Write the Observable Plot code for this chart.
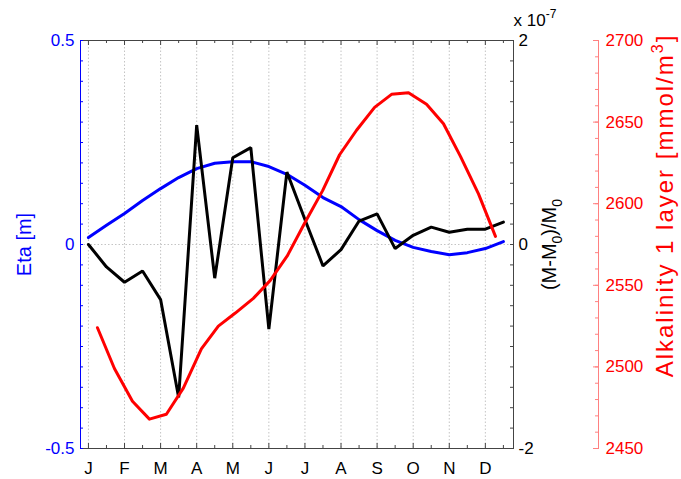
<!DOCTYPE html>
<html><head><meta charset="utf-8">
<script src="https://cdn.jsdelivr.net/npm/d3@7"></script>
<script src="https://cdn.jsdelivr.net/npm/@observablehq/plot@0.6"></script>
<style>
body{margin:0;background:#fff}
#chart{position:relative;width:681px;height:479px;overflow:hidden;background:#fff}
#chart svg{position:absolute;left:0;top:0}
</style></head><body><div id="chart"></div>
<script>
// ---- data ----
const monthLabels = ["J","F","M","A","M","J","J","A","S","O","N","D"];
const monthPos = [0,1,2,3,4,5,6,7,8,9,10,11];
const halfMonthPos = [0.5,1.5,2.5,3.5,4.5,5.5,6.5,7.5,8.5,9.5,10.5,11.5];
const tSemi = [0,0.5,1,1.5,2,2.5,3,3.5,4,4.5,5,5.5,6,6.5,7,7.5,8,8.5,9,9.5,10,10.5,11,11.5];
const eta = [0.017,0.047,0.076,0.108,0.137,0.164,0.186,0.199,0.203,0.203,0.191,0.172,0.145,0.115,0.093,0.061,0.034,0.010,-0.007,-0.017,-0.025,-0.020,-0.010,0.007];
const massAnom = [0,-0.22,-0.37,-0.26,-0.54,-1.5,1.17,-0.33,0.85,0.95,-0.83,0.71,0.245,-0.21,-0.05,0.23,0.30,-0.04,0.09,0.17,0.12,0.15,0.15,0.22]; // x 1e-7
const tAlk = [0.25,0.72,1.22,1.69,2.16,2.63,3.13,3.60,4.07,4.57,5.04,5.51,5.99,6.49,6.96,7.43,7.93,8.40,8.87,9.37,9.84,10.31,10.81,11.28];
const alk = [2524,2499,2479,2468,2471,2487,2511,2525,2533,2542,2553,2568,2588,2608,2630,2645,2659,2667,2668,2661,2649,2629,2606,2580];
const etaLabels = [-0.5,0,0.5];
const massLabels = [-2,0,2];
const alkLabels = [2450,2500,2550,2600,2650,2700];

// ---- layout ----
const W = 681, H = 479, ML = 80, MT = 40, MB = 31, MR = 168, MR3 = 83;
const frameW = W - ML - MR, frameH = H - MT - MB, frameW3 = W - ML - MR3;
const xDomain = [-0.22, 11.78];
const FONT = '"Liberation Sans", Arial, Helvetica, sans-serif';
const etaMinor = d3.range(-0.5, 0.5001, 0.05);
const massMinor = d3.range(-2, 2.001, 0.2);
const alkMinor = d3.range(2450, 2701, 10);
const base = {width: W, height: H, marginLeft: ML, marginTop: MT, marginBottom: MB,
  style: {fontFamily: FONT, fontSize: "17px", background: "transparent", overflow: "visible"}};
const grid = {stroke: "#c4c4c4", strokeDasharray: "1.5,2"};

const p1 = Plot.plot({...base, marginRight: MR,
  x: {domain: xDomain}, y: {domain: [-0.5, 0.5]},
  marks: [
    Plot.ruleX(monthPos, grid),
    Plot.ruleY([0], grid),
    Plot.ruleX(monthPos, {stroke: "#444", insetBottom: frameH - 5}),
    Plot.ruleX(halfMonthPos, {stroke: "#444", insetBottom: frameH - 3}),
    Plot.ruleX(monthPos, {stroke: "#444", insetTop: frameH - 5}),
    Plot.ruleX(halfMonthPos, {stroke: "#444", insetTop: frameH - 3}),
    Plot.frame({anchor: "top", stroke: "#444"}),
    Plot.frame({anchor: "bottom", stroke: "#444"}),
    Plot.frame({anchor: "left", stroke: "blue"}),
    Plot.ruleY(etaMinor, {stroke: "blue", insetRight: frameW - 3}),
    Plot.axisY({ticks: etaLabels, tickSize: 0, tickPadding: 6, tickFormat: d => String(d), color: "blue", label: null}),
    Plot.axisX({ticks: monthPos, tickSize: 0, tickPadding: 13, tickFormat: i => monthLabels[i], label: null}),
    Plot.text(["Eta [m]"], {frameAnchor: "left", dx: -56, rotate: -90, fontSize: 20, fill: "blue", textAnchor: "middle", lineAnchor: "middle"}),
    Plot.line(eta, {x: (d, i) => tSemi[i], y: d => d, stroke: "blue", strokeWidth: 3})
  ]});

const p2 = Plot.plot({...base, marginRight: MR,
  x: {domain: xDomain, axis: null}, y: {domain: [-2, 2]},
  marks: [
    Plot.frame({anchor: "right", stroke: "#444"}),
    Plot.ruleY(massMinor, {stroke: "#444", insetLeft: frameW - 3}),
    Plot.axisY({anchor: "right", ticks: massLabels, tickSize: 0, tickPadding: 5, tickFormat: d => String(d), label: null}),
    Plot.text(["(M-M0)/M0"], {frameAnchor: "right", dx: 36, rotate: -90, fontSize: 20, textAnchor: "middle", lineAnchor: "middle"}),
    Plot.text(["x 10-7"], {frameAnchor: "top-right", dy: -20, textAnchor: "start", lineAnchor: "middle"}),
    Plot.line(massAnom, {x: (d, i) => tSemi[i], y: d => d, stroke: "black", strokeWidth: 3, strokeLinejoin: "miter"})
  ]});

const p3 = Plot.plot({...base, marginRight: MR3,
  x: {domain: xDomain, range: [ML, W - MR], axis: null}, y: {domain: [2450, 2700]},
  marks: [
    Plot.frame({anchor: "right", stroke: "#ff8080"}),
    Plot.ruleY(alkMinor, {stroke: "#ff8080", insetLeft: frameW3 - 3}),
    Plot.ruleY(alkLabels, {stroke: "#ff8080", insetLeft: frameW3 - 5}),
    Plot.axisY({anchor: "right", ticks: alkLabels, tickSize: 0, tickPadding: 7, tickFormat: d => String(d), color: "red", label: null}),
    Plot.text(["Alkalinity 1 layer [mmol/m3]"], {frameAnchor: "right", dx: 67, dy: -39, rotate: -90, fontSize: 24, fill: "red", textAnchor: "middle", lineAnchor: "middle"}),
    Plot.line(alk, {x: (d, i) => tAlk[i], y: d => d, stroke: "red", strokeWidth: 3})
  ]});

const chart = document.getElementById("chart");
[p1, p2, p3].forEach(p => chart.appendChild(p));

function rich(svg, plain, parts, spacing) {
  d3.select(svg).selectAll("text").filter(function() { return this.textContent === plain; }).each(function() {
    const t = d3.select(this);
    t.text(null);
    if (spacing) t.attr("letter-spacing", spacing);
    parts.forEach(p => {
      const s = t.append("tspan").text(p.t);
      if (p.size) s.attr("font-size", p.size);
      if (p.dy) s.attr("dy", p.dy);
    });
  });
}
rich(p2, "(M-M0)/M0", [{t: "(M-M"}, {t: "0", size: 14, dy: 6}, {t: ")/M", dy: -6}, {t: "0", size: 14, dy: 6}]);
rich(p2, "x 10-7", [{t: "x 10"}, {t: "-7", size: 12, dy: -8}]);
rich(p3, "Alkalinity 1 layer [mmol/m3]", [{t: "Alkalinity 1 layer [mmol/m"}, {t: "3", size: 16, dy: -10}, {t: "]", dy: 10}], 2);
</script></body></html>
